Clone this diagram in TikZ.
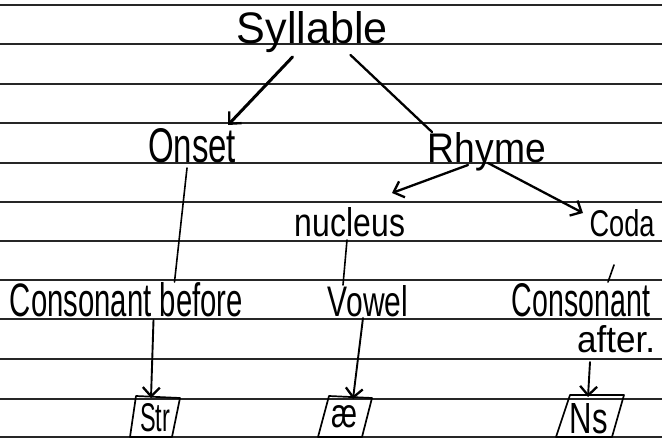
\documentclass[tikz,border=0pt]{standalone}
\usepackage{fontspec}
\setmainfont{Liberation Sans}
\usetikzlibrary{arrows.meta,calc}

% \hw{width}{height}{text}: handwritten-style word stretched to a given size
\newcommand{\hw}[3]{\resizebox{#1pt}{#2pt}{#3}}

\begin{document}
\begin{tikzpicture}[x=1pt,y=-1pt,
  ruled/.style={black!85,line width=1.7pt},
  word/.style={inner sep=0pt,anchor=base,text=black},
  pen/.style={black,line width=2.3pt,line cap=round,line join=round},
  thinpen/.style={black,line width=1.6pt,line cap=round},
  arr/.style={pen,-{Straight Barb[length=9pt,width=17pt,line width=2.3pt]}},
  boxline/.style={black,line width=1.7pt,line join=round},
]
\useasboundingbox (0,0) rectangle (662,444);
\fill[white] (0,0) rectangle (662,444);

% ruled paper
\foreach \y in {5,44,84,123,163,202,241,280,319,359,399,437}
  \draw[ruled] (0,\y) -- (662,\y);

% words
\node[word] (syl)     at (312.5,44) {\hw{151}{32}{Syllable}};
\node[word] (onset)   at (192,162)  {\hw{88}{34}{Onset}};
\node[word] (rhyme)   at (487,162)  {\hw{118}{30}{Rhyme}};
\node[word] (nucleus) at (350,236)  {\hw{110}{29}{nucleus}};
\node[word] (coda)    at (622,236)  {\hw{65}{27}{Coda}};
\node[word] (before)  at (126.5,316){\hw{233}{34}{Consonant before}};
\node[word] (vowel)   at (368,316)  {\hw{80}{31}{Vowel}};
\node[word] (cons)    at (581,316)  {\hw{138}{33}{Consonant}};
\node[word] (after)   at (616,352)  {\hw{78}{27}{after.}};

% slanted boxes with the sounds
\draw[boxline] (136,396) -- (180,398) -- (172,437) -- (130,437) -- cycle;
\draw[boxline] (329,396) -- (372,398) -- (362,437) -- (318,437) -- cycle;
\draw[boxline] (570,395) -- (624,395) -- (612,437) -- (556,437) -- cycle;
\node[inner sep=0pt] (str) at (155,418) {\hw{30}{28}{Str}};
\node[inner sep=0pt] (ae)  at (344,417) {\hw{26}{22}{æ}};
\node[inner sep=0pt] (ns)  at (589,419) {\hw{38}{30}{Ns}};

% branches
\draw[arr,line width=3pt] ($(syl.base)+(-20,13)$) -- ($(onset.base)+(36,-37)$);
\draw[pen] ($(syl.base)+(38,11)$) -- ($(rhyme.base)+(-55,-30)$);
\draw[arr] ($(rhyme.base)+(-19,3)$) -- ($(nucleus.base)+(42,-43)$);
\draw[arr] ($(rhyme.base)+(1,1)$) -- ($(coda.base)+(-39,-23)$);

\draw[thinpen] ($(onset.base)+(-5,6)$) -- ($(before.base)+(48,-34)$);
\draw[thinpen] ($(nucleus.base)+(-3,4)$) -- ($(vowel.base)+(-25,-31)$);
\draw[thinpen] ($(coda.base)+(-8,29)$) -- ($(cons.base)+(27,-34)$);

\draw[arr,line width=1.9pt] ($(before.base)+(27,4)$) -- ($(str)+(-4,-20)$);
\draw[arr,line width=1.9pt] ($(vowel.base)+(-5,2)$) -- ($(ae)+(9,-18)$);
\draw[arr,line width=1.9pt] ($(after.base)+(-26,10)$) -- ($(ns)+(-1,-22)$);
\end{tikzpicture}
\end{document}
